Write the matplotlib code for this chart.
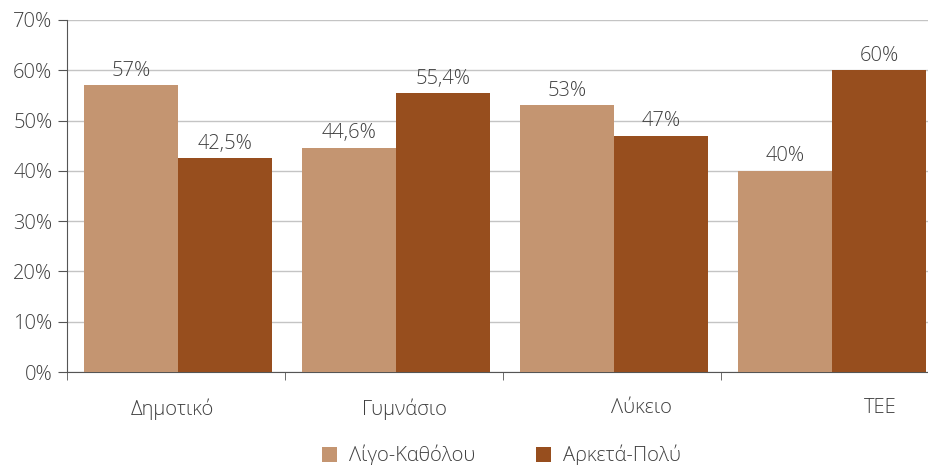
import matplotlib.pyplot as plt
import numpy as np

plt.rcParams['font.family'] = ['Open Sans', 'DejaVu Sans']

categories = ['Δημοτικό', 'Γυμνάσιο', 'Λύκειο', 'ΤΕΕ']
ligo_katholou = [57, 44.6, 53, 40]
arketa_poly = [42.5, 55.4, 47, 60]
ligo_labels = ['57%', '44,6%', '53%', '40%']
arketa_labels = ['42,5%', '55,4%', '47%', '60%']
yticks = [0, 10, 20, 30, 40, 50, 60, 70]

light = '#C49571'
dark = '#974E1E'
txt = '#404040'
fs = 14.5

fig = plt.figure(figsize=(9.29, 4.65), dpi=100)
# plot area runs a little past the right edge of the figure
ax = fig.add_axes([0.0721, 0.2, 0.9386, 0.757])

x = np.arange(len(categories))
w = 0.431
b1 = ax.bar(x - w / 2 + 0.009, ligo_katholou, w, color=light, label='Λίγο-Καθόλου', zorder=3)
b2 = ax.bar(x + w / 2 + 0.009, arketa_poly, w, color=dark, label='Αρκετά-Πολύ', zorder=3)

for bars, labs in ((b1, ligo_labels), (b2, arketa_labels)):
    for r, s in zip(bars, labs):
        ax.text(r.get_x() + r.get_width() / 2, r.get_height() + 0.9, s,
                ha='center', va='bottom', fontsize=fs, color=txt, fontweight='light')

ax.set_ylim(0, 70)
ax.set_xlim(-0.5, 3.5)
ax.set_yticks(yticks)
ax.set_yticklabels([f'{v}%' for v in yticks], fontsize=fs, color=txt, fontweight='light')
ax.yaxis.grid(True, color='#c4c4c4', linewidth=1, zorder=0)

# category names sit a bit off the group centers
label_pos = x + np.array([-0.018, 0.05, 0.133, 0.23])
ax.set_xticks(label_pos)
ax.set_xticklabels(categories, fontsize=fs, color=txt, fontweight='light')
ax.tick_params(axis='x', length=0, pad=19)
ax.set_xticks(np.arange(-0.5, 3.6, 1), minor=True)
ax.tick_params(axis='x', which='minor', length=6, color='#555555', direction='out')
ax.tick_params(axis='y', length=6.5, color='#555555', pad=4)

for s in ['top', 'right']:
    ax.spines[s].set_visible(False)
ax.spines['left'].set_color('#555555')
ax.spines['bottom'].set_color('#555555')

leg = fig.legend(loc='lower center', bbox_to_anchor=(0.54, -0.042), ncol=2, frameon=False,
                 fontsize=fs, handlelength=0.75, handleheight=0.75, columnspacing=3.0,
                 handletextpad=0.6)
for t in leg.get_texts():
    t.set_color(txt)
    t.set_fontweight('light')

fig.savefig('out.png', dpi=100)
